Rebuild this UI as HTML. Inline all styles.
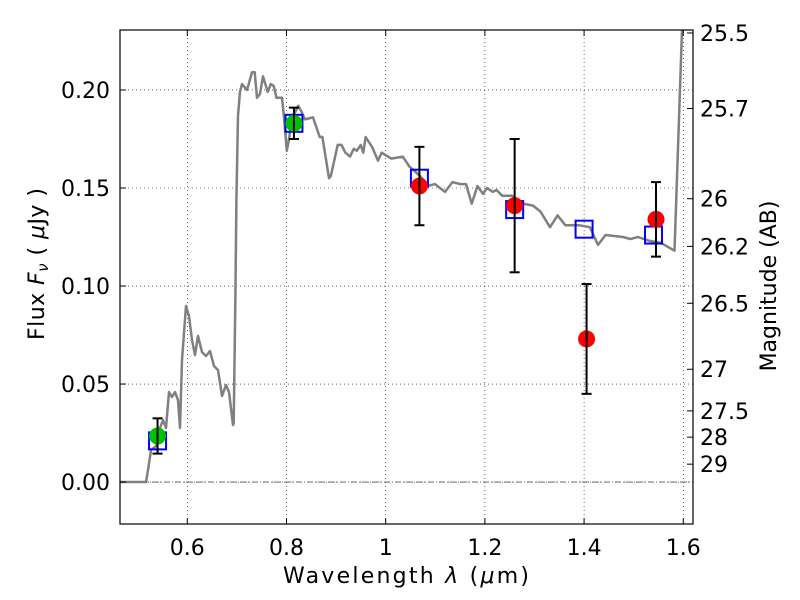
<!DOCTYPE html>
<html><head><meta charset="utf-8"><style>
body{margin:0;background:#fff}
svg{display:block;font-family:"DejaVu Sans","Liberation Sans",sans-serif}
</style></head><body>
<svg id="chart" width="800" height="600" xmlns="http://www.w3.org/2000/svg"></svg>
<script>
const xTicks=[0.6,0.8,1,1.2,1.4,1.6];
const xTickLabels=["0.6","0.8","1","1.2","1.4","1.6"];
const yTicks=[0,0.05,0.10,0.15,0.20];
const yTickLabels=["0.00","0.05","0.10","0.15","0.20"];
const magTicks=[25.5,25.7,26,26.2,26.5,27,27.5,28,29];
const magTickLabels=["25.5","25.7","26","26.2","26.5","27","27.5","28","29"];
const specLam=[0.46,0.5167,0.5207,0.5268,0.5369,0.545,0.551,0.5571,0.5631,0.5692,0.5752,0.5813,0.5853,0.5893,0.5974,0.6034,0.6095,0.6155,0.6216,0.6296,0.6377,0.6458,0.6538,0.6619,0.67,0.678,0.6841,0.6921,0.6935,0.697,0.699,0.7022,0.7062,0.7103,0.7204,0.7304,0.7359,0.7405,0.7466,0.7526,0.7621,0.7681,0.7744,0.7798,0.7909,0.795,0.8006,0.8044,0.8107,0.8238,0.83,0.8373,0.8534,0.8669,0.8724,0.8857,0.8893,0.9032,0.9109,0.9187,0.928,0.9357,0.9417,0.9496,0.9548,0.9595,0.9724,0.9845,0.9919,1.0113,1.0345,1.0476,1.0611,1.0732,1.0845,1.0994,1.1195,1.1347,1.1498,1.1619,1.1734,1.1849,1.1961,1.2042,1.2157,1.2234,1.235,1.2546,1.2774,1.297,1.312,1.3312,1.3467,1.3622,1.3893,1.4118,1.428,1.4433,1.478,1.4935,1.5086,1.532,1.555,1.5822,1.5973,1.606];
const specFlux=[0,0,0.0061,0.0163,0.0184,0.0276,0.0316,0.0276,0.0459,0.0434,0.0459,0.0418,0.0276,0.0622,0.0898,0.0847,0.0724,0.0648,0.0745,0.0663,0.0643,0.0668,0.0592,0.0571,0.0439,0.0495,0.0459,0.0291,0.030,0.095,0.144,0.187,0.199,0.203,0.200,0.209,0.209,0.196,0.198,0.207,0.199,0.203,0.202,0.196,0.196,0.186,0.169,0.174,0.185,0.192,0.189,0.185,0.186,0.176,0.176,0.155,0.156,0.172,0.172,0.168,0.166,0.170,0.169,0.172,0.168,0.176,0.171,0.164,0.168,0.165,0.166,0.161,0.158,0.155,0.151,0.152,0.148,0.153,0.152,0.152,0.142,0.151,0.147,0.150,0.148,0.149,0.146,0.146,0.142,0.141,0.138,0.130,0.136,0.131,0.131,0.130,0.121,0.126,0.125,0.124,0.125,0.123,0.122,0.118,0.229,0.26];
const modelLam=[0.54,0.815,1.068,1.26,1.40,1.54];
const modelFlux=[0.021,0.183,0.155,0.139,0.129,0.126];
const greenLam=[0.54,0.815];
const greenFlux=[0.0235,0.183];
const greenErr=[0.009,0.008];
const redLam=[1.068,1.26,1.405,1.545];
const redFlux=[0.151,0.141,0.073,0.134];
const redErr=[0.020,0.034,0.028,0.019];

const L=120,R=693,T=30,B=524;
const xMin=0.4643,xMax=1.6196,yMin=-0.0214,yMax=0.2306;
const X=v=>L+(v-xMin)/(xMax-xMin)*(R-L);
const Y=v=>B-(v-yMin)/(yMax-yMin)*(B-T);
const svg=document.getElementById('chart');
const NS='http://www.w3.org/2000/svg';
function mk(tag,attrs,parent){const e=document.createElementNS(NS,tag);for(const k in attrs)e.setAttribute(k,attrs[k]);(parent||svg).appendChild(e);return e;}

const clip=mk('clipPath',{id:'pc'});mk('rect',{x:L,y:T,width:R-L,height:B-T},clip);

const grid=mk('g',{});


xTicks.forEach(v=>{mk('line',{x1:X(v),x2:X(v),y1:T,y2:B,stroke:'#000','stroke-width':0.6,'stroke-dasharray':'1,3'},grid);});
yTicks.forEach(v=>{mk('line',{x1:L,x2:R,y1:Y(v),y2:Y(v),stroke:'#000','stroke-width':0.6,'stroke-dasharray':'1,3'},grid);});
const zl=mk('line',{x1:L,x2:R,y1:Y(0),y2:Y(0),stroke:'#555','stroke-width':0.8,'stroke-dasharray':'6,2,1,2'});



let d='';specLam.forEach((l,i)=>{d+=(i?'L':'M')+X(l).toFixed(1)+','+Y(specFlux[i]).toFixed(1);});
const sp=mk('path',{d:d,fill:'none',stroke:'#808080','stroke-width':2.5,'clip-path':'url(#pc)','stroke-linejoin':'round'});



modelLam.forEach((l,i)=>{
 const r=mk('rect',{x:X(l)-8.5,y:Y(modelFlux[i])-8.5,width:17,height:17,fill:'none',stroke:'#0000ff','stroke-width':2});
 
 
});
function pts(lams,fl,er,col,name){
 lams.forEach((l,i)=>{
  const g=mk('g',{});
  
  
  const x=X(l),y1=Y(fl[i]+er[i]),y2=Y(fl[i]-er[i]);
  mk('circle',{cx:x,cy:Y(fl[i]),r:8.5,fill:col},g);
  mk('line',{x1:x,x2:x,y1:y1,y2:y2,stroke:'#000','stroke-width':2},g);
  mk('line',{x1:x-5,x2:x+5,y1:y1,y2:y1,stroke:'#000','stroke-width':2},g);
  mk('line',{x1:x-5,x2:x+5,y1:y2,y2:y2,stroke:'#000','stroke-width':2},g);
 });
}
pts(greenLam,greenFlux,greenErr,'#00c000','green-data-point');
pts(redLam,redFlux,redErr,'#ff0000','red-data-point');

const fr=mk('rect',{x:L,y:T,width:R-L,height:B-T,fill:'none',stroke:'#000','stroke-width':1.2});



xTicks.forEach((v,i)=>{
 mk('line',{x1:X(v),x2:X(v),y1:B,y2:B-6,stroke:'#000'});
 mk('line',{x1:X(v),x2:X(v),y1:T,y2:T+6,stroke:'#000'});
 const t=mk('text',{x:X(v),y:B+31,'font-size':22,'text-anchor':'middle'});t.textContent=xTickLabels[i];
 
 
});
yTicks.forEach((v,i)=>{
 mk('line',{x1:L,x2:L+6,y1:Y(v),y2:Y(v),stroke:'#000'});
 const t=mk('text',{x:L-10,y:Y(v)+8,'font-size':22,'text-anchor':'end'});t.textContent=yTickLabels[i];
 
 
});
magTicks.forEach((m,i)=>{
 const f=Math.pow(10,(23.9-m)/2.5);const y=Y(f);
 mk('line',{x1:R,x2:R-6,y1:y,y2:y,stroke:'#000'});
 const t=mk('text',{x:R+7,y:y+8,'font-size':22,'text-anchor':'start'});t.textContent=magTickLabels[i];
 
 
});
const xl=mk('text',{x:283,y:583,'font-size':22,'text-anchor':'start',textLength:246,lengthAdjust:'spacing'});
xl.setAttribute('xml:space','preserve');
xl.innerHTML='Wavelength  <tspan font-style="italic">λ</tspan> (<tspan font-style="italic">μ</tspan>m)';


const yl=mk('text',{x:0,y:0,'font-size':22,'text-anchor':'start',textLength:152,lengthAdjust:'spacing',transform:'translate(44,340) rotate(-90)'});
yl.setAttribute('xml:space','preserve');
yl.innerHTML='Flux  <tspan font-style="italic">F</tspan><tspan font-style="italic" font-size="15" dy="4">ν</tspan><tspan dy="-4">  ( </tspan><tspan font-style="italic">μ</tspan>Jy )';


const rl=mk('text',{x:0,y:0,'font-size':22,'text-anchor':'middle',transform:'translate(776,286) rotate(-90)'});
rl.textContent='Magnitude (AB)';


</script>
</body></html>
